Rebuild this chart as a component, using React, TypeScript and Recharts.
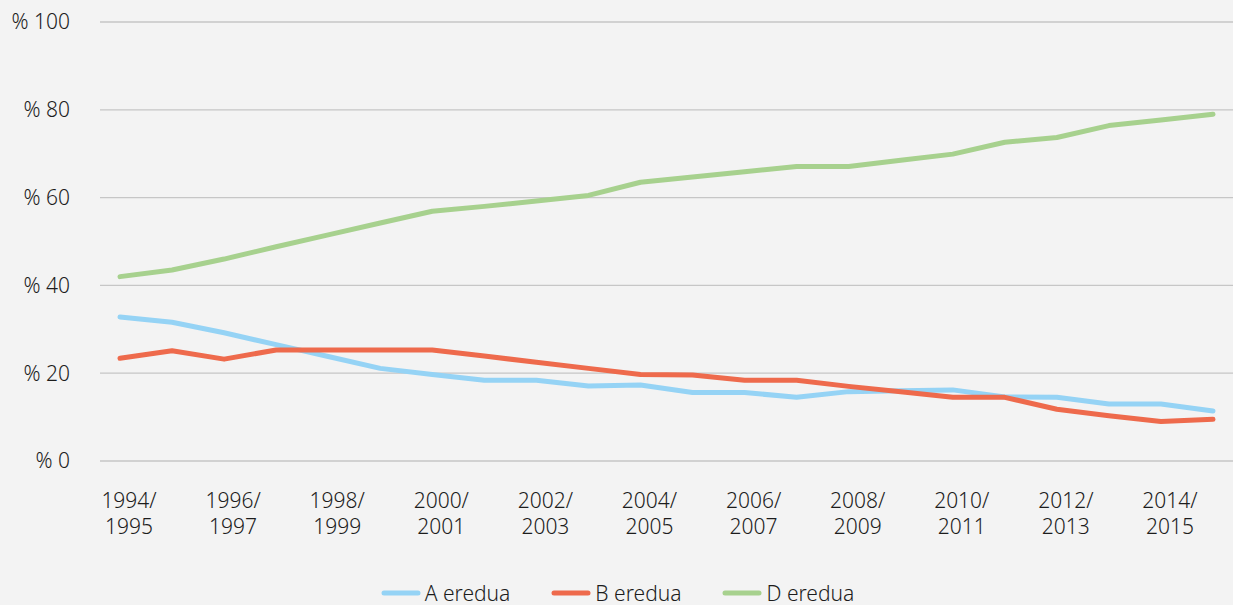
import React from "react";
import { LineChart, Line, XAxis, YAxis, CartesianGrid, Legend } from "recharts";

const years = [
  "1994/1995", "1995/1996", "1996/1997", "1997/1998", "1998/1999", "1999/2000",
  "2000/2001", "2001/2002", "2002/2003", "2003/2004", "2004/2005", "2005/2006",
  "2006/2007", "2007/2008", "2008/2009", "2009/2010", "2010/2011", "2011/2012",
  "2012/2013", "2013/2014", "2014/2015", "2015/2016"
];

const aEredua = [
  32.8, 31.6, 29.2, 26.5, 23.8, 21.1, 19.7, 18.4, 18.4, 17.1, 17.3, 15.6,
  15.6, 14.5, 15.8, 16.0, 16.2, 14.6, 14.5, 13.0, 13.0, 11.4
];

const bEredua = [
  23.4, 25.1, 23.2, 25.3, 25.3, 25.3, 25.3, 23.9, 22.5, 21.1, 19.7, 19.6,
  18.4, 18.4, 17.0, 15.8, 14.5, 14.5, 11.8, 10.3, 9.0, 9.5
];

const dEredua = [
  42.0, 43.5, 46.0, 48.8, 51.5, 54.2, 56.9, 58.0, 59.2, 60.5, 63.5, 64.7,
  65.9, 67.1, 67.1, 68.5, 69.9, 72.6, 73.7, 76.4, 77.7, 79.0
];

const yTicks = [0, 20, 40, 60, 80, 100];

const series = [
  { key: "a", name: "A eredua", color: "#95d3f5" },
  { key: "b", name: "B eredua", color: "#ee6a4c" },
  { key: "d", name: "D eredua", color: "#a7d18e" }
];

const data = years.map((year, i) => ({
  year,
  a: aEredua[i],
  b: bEredua[i],
  d: dEredua[i]
}));

const FONT = "'Noto Sans', sans-serif";
const WEIGHT = 300;
const TEXT = "#1c1c1c";

// two-line year labels, every other category
function YearTick({ x, y, payload }: any) {
  const [first, second] = String(payload.value).split("/");
  return (
    <g transform={`translate(${x + 9},${y})`}>
      <text textAnchor='middle' fontFamily={FONT} fontWeight={WEIGHT} fontSize={21} fill={TEXT}>
        <tspan x={0} dy={47}>{first}/</tspan>
        <tspan x={0} dy={26}>{second}</tspan>
      </text>
    </g>
  );
}

function LegendRow() {
  return (
    <div
      style={{
        display: "flex",
        justifyContent: "center",
        alignItems: "center",
        gap: 41,
        height: 30,
        paddingTop: 3,
        paddingLeft: 2,
        fontFamily: FONT,
        fontWeight: WEIGHT,
        fontSize: 21,
        color: TEXT
      }}
    >
      {series.map(s => (
        <div key={s.key} style={{ display: "flex", alignItems: "center" }}>
          <svg width={40} height={10} style={{ marginRight: 4 }}>
            <line x1={3} y1={5} x2={37} y2={5} stroke={s.color} strokeWidth={5} strokeLinecap='round' />
          </svg>
          <span>{s.name}</span>
        </div>
      ))}
    </div>
  );
}

export default function App() {
  return (
    <div style={{ position: "absolute", left: 0, top: 0, width: 1233, height: 605, background: "#f3f3f3" }}>
      <LineChart width={1233} height={605} data={data} margin={{ top: 22, right: 0, left: 0, bottom: 0 }}>
        <CartesianGrid vertical={false} stroke='#c6c6c6' strokeWidth={1.3} />
        <XAxis
          dataKey='year'
          axisLine={false}
          tickLine={false}
          tickSize={0}
          tickMargin={0}
          height={114}
          interval={1}
          padding={{ left: 20, right: 20 }}
          tick={<YearTick />}
        />
        <YAxis
          domain={[0, 100]}
          ticks={yTicks}
          width={100}
          axisLine={false}
          tickLine={false}
          tickSize={0}
          tickMargin={30}
          tickFormatter={(v: number) => `% ${v}`}
          tick={{ fontFamily: FONT, fontWeight: WEIGHT, fontSize: 21, fill: TEXT }}
        />
        <Legend verticalAlign='bottom' height={30} content={<LegendRow />} />
        {series.map(s => (
          <Line
            key={s.key}
            dataKey={s.key}
            name={s.name}
            stroke={s.color}
            strokeWidth={5}
            strokeLinecap='round'
            strokeLinejoin='round'
            dot={false}
            activeDot={false}
            type='linear'
            isAnimationActive={false}
          />
        ))}
      </LineChart>
    </div>
  );
}
